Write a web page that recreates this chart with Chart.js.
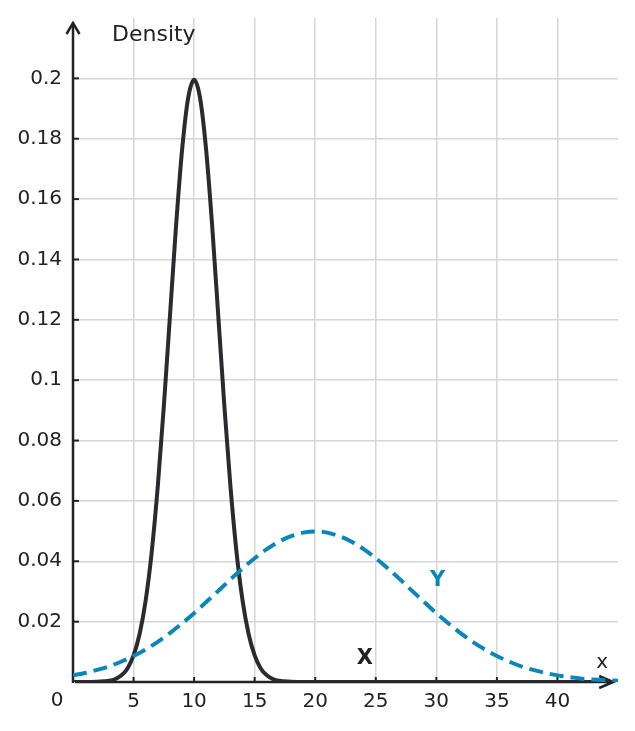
<!DOCTYPE html>
<html lang="en">
<head>
    <meta charset="UTF-8">
    <title>Density of X and Y</title>
    <script src="https://cdn.jsdelivr.net/npm/chart.js"></script>
    <style>
        html, body { margin: 0; padding: 0; background: #fff; }
        #wrap { width: 635px; height: 731px; }
    </style>
</head>
<body>
<div id="wrap"><canvas id="densityChart"></canvas></div>

<script>
    // values
    const xPointsX = [0, 1, 2, 3, 3.5, 4, 4.5, 5, 5.5, 6, 6.5, 7, 7.5, 8, 8.5, 9, 9.5, 10,
        10.5, 11, 11.5, 12, 12.5, 13, 13.5, 14, 14.5, 15, 15.5, 16, 16.5, 17, 18, 19, 20,
        25, 30, 35, 40, 45];
    const densityX = [0, 0, 0.0001, 0.0004, 0.0010, 0.0022, 0.0045, 0.0088, 0.0159, 0.0270,
        0.0431, 0.0648, 0.0913, 0.1210, 0.1506, 0.1760, 0.1933, 0.1995,
        0.1933, 0.1760, 0.1506, 0.1210, 0.0913, 0.0648, 0.0431, 0.0270, 0.0159, 0.0088,
        0.0045, 0.0022, 0.0010, 0.0004, 0.0001, 0, 0, 0, 0, 0, 0, 0];

    const xPointsY = [0, 1, 2, 3, 4, 5, 6, 7, 8, 9, 10, 11, 12, 13, 14, 15, 16, 17, 18, 19,
        20, 21, 22, 23, 24, 25, 26, 27, 28, 29, 30, 31, 32, 33, 34, 35, 36, 37, 38, 39,
        40, 41, 42, 43, 44, 45];
    const densityY = [0.0022, 0.0030, 0.0040, 0.0052, 0.0068, 0.0086, 0.0108, 0.0133, 0.0162,
        0.0194, 0.0228, 0.0265, 0.0302, 0.0340, 0.0376, 0.0410, 0.0440, 0.0465, 0.0483,
        0.0495, 0.0499, 0.0495, 0.0483, 0.0465, 0.0440, 0.0410, 0.0376, 0.0340, 0.0302,
        0.0265, 0.0228, 0.0194, 0.0162, 0.0133, 0.0108, 0.0086, 0.0068, 0.0052, 0.0040,
        0.0030, 0.0022, 0.0016, 0.0011, 0.0008, 0.0006, 0.0004];

    const seriesNames = ['X', 'Y'];
    const xTickLabels = [5, 10, 15, 20, 25, 30, 35, 40];
    const yTickLabels = [0.02, 0.04, 0.06, 0.08, 0.1, 0.12, 0.14, 0.16, 0.18, 0.2];

    const FONT = 'DejaVu Sans';
    const INK = '#222222';
    const BLUE = '#0a87b9';
    const GRID = '#d6d6d6';

    const near = (a, b) => Math.abs(a - b) < 1e-9;
    const inList = (list, v) => list.some(t => near(t, v));

    // axis lines with open arrows, small ticks, and the text labels
    const axesPlugin = {
        id: 'axesPlugin',
        beforeDatasetsDraw(chart) {
            const { ctx, scales: { x, y } } = chart;
            const x0 = x.getPixelForValue(0);
            const y0 = y.getPixelForValue(0);
            const areaTop = chart.chartArea.top;
            ctx.save();
            ctx.strokeStyle = INK;
            ctx.lineWidth = 2.5;
            ctx.lineCap = 'butt';
            // y axis
            ctx.beginPath();
            ctx.moveTo(x0, y0 + 1);
            ctx.lineTo(x0, areaTop + 5);
            ctx.stroke();
            ctx.beginPath();
            ctx.moveTo(x0 - 6.5, areaTop + 16);
            ctx.lineTo(x0, areaTop + 5);
            ctx.lineTo(x0 + 6.5, areaTop + 16);
            ctx.stroke();
            // x axis
            const xEnd = x.getPixelForValue(44.6);
            ctx.beginPath();
            ctx.moveTo(x0 + 2, y0);
            ctx.lineTo(xEnd, y0);
            ctx.stroke();
            ctx.beginPath();
            ctx.moveTo(xEnd - 14, y0 - 6);
            ctx.lineTo(xEnd, y0);
            ctx.lineTo(xEnd - 14, y0 + 6);
            ctx.stroke();
            // ticks
            ctx.lineWidth = 2;
            yTickLabels.forEach(v => {
                const py = y.getPixelForValue(v);
                ctx.beginPath();
                ctx.moveTo(x0, py);
                ctx.lineTo(x0 + 6, py);
                ctx.stroke();
            });
            xTickLabels.forEach(v => {
                const px = x.getPixelForValue(v);
                ctx.beginPath();
                ctx.moveTo(px, y0);
                ctx.lineTo(px, y0 - 5);
                ctx.stroke();
            });
            ctx.restore();
        },
        afterDatasetsDraw(chart) {
            const { ctx, scales: { x, y } } = chart;
            const x0 = x.getPixelForValue(0);
            const y0 = y.getPixelForValue(0);
            ctx.save();
            ctx.textBaseline = 'middle';
            ctx.fillStyle = INK;
            ctx.font = `20px "${FONT}"`;
            ctx.textAlign = 'center';
            ctx.fillText('0', x0 - 16, y0 + 19);
            ctx.fillText('x', x.getPixelForValue(43.7), y0 - 19);
            ctx.font = `22px "${FONT}"`;
            ctx.textAlign = 'left';
            ctx.fillText('Density', x0 + 39, chart.chartArea.top + 17);
            ctx.font = `bold 21px "${FONT}"`;
            ctx.textAlign = 'center';
            ctx.fillText(seriesNames[0], x.getPixelForValue(24.1), y.getPixelForValue(0.0077));
            ctx.fillStyle = BLUE;
            ctx.fillText(seriesNames[1], x.getPixelForValue(30.1), y.getPixelForValue(0.0337));
            ctx.restore();
        }
    };

    const ctx = document.getElementById('densityChart').getContext('2d');
    new Chart(ctx, {
        type: 'line',
        data: {
            datasets: [
                {
                    label: seriesNames[1],
                    data: xPointsY.map((v, i) => ({ x: v, y: densityY[i] })),
                    borderColor: BLUE,
                    borderWidth: 4,
                    borderDash: [14, 7],
                    pointRadius: 0,
                    cubicInterpolationMode: 'monotone',
                    fill: false
                },
                {
                    label: seriesNames[0],
                    data: xPointsX.map((v, i) => ({ x: v, y: densityX[i] })),
                    borderColor: '#2b2b2f',
                    borderWidth: 4,
                    pointRadius: 0,
                    cubicInterpolationMode: 'monotone',
                    fill: false
                }
            ]
        },
        options: {
            responsive: true,
            maintainAspectRatio: false,
            animation: false,
            devicePixelRatio: 1,
            layout: { padding: { top: 18, right: 17, left: 0, bottom: 0 } },
            plugins: {
                legend: { display: false },
                tooltip: { enabled: false }
            },
            scales: {
                x: {
                    type: 'linear',
                    min: 0,
                    max: 45,
                    afterFit(scale) {
                        scale.height = 49;
                        scale.paddingLeft = 0;
                        scale.paddingRight = 0;
                    },
                    border: { display: false },
                    grid: {
                        drawTicks: false,
                        lineWidth: 1.5,
                        color: c => inList(xTickLabels, c.tick.value) ? GRID : 'rgba(0,0,0,0)'
                    },
                    ticks: {
                        stepSize: 5,
                        padding: 8,
                        maxRotation: 0,
                        color: INK,
                        font: { family: FONT, size: 20 },
                        callback: v => inList(xTickLabels, v) ? String(v) : ''
                    }
                },
                y: {
                    min: 0,
                    max: 0.22,
                    afterFit(scale) {
                        scale.width = 73;
                        scale.paddingTop = 0;
                        scale.paddingBottom = 0;
                    },
                    border: { display: false },
                    grid: {
                        drawTicks: false,
                        lineWidth: 1.5,
                        color: c => inList(yTickLabels, c.tick.value) ? GRID : 'rgba(0,0,0,0)'
                    },
                    ticks: {
                        stepSize: 0.02,
                        padding: 11,
                        color: INK,
                        font: { family: FONT, size: 20 },
                        callback: v => inList(yTickLabels, v) ? String(parseFloat(v.toFixed(2))) : ''
                    }
                }
            }
        },
        plugins: [axesPlugin]
    });
</script>
</body>
</html>
